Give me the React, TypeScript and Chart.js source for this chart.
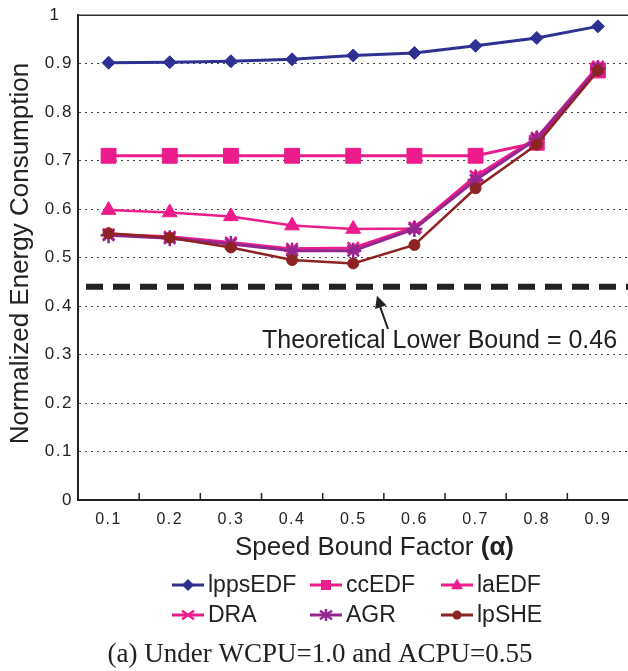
import React, { useEffect, useRef } from 'react';
import { Chart, registerables } from 'chart.js';

Chart.register(...registerables);

// ---------- data ----------
const categories = ['0.1', '0.2', '0.3', '0.4', '0.5', '0.6', '0.7', '0.8', '0.9'];
const seriesNames = ['lppsEDF', 'ccEDF', 'laEDF', 'DRA', 'AGR', 'lpSHE'];
const lppsEDF = [0.902, 0.903, 0.905, 0.909, 0.917, 0.922, 0.937, 0.953, 0.977];
const ccEDF = [0.71, 0.71, 0.71, 0.71, 0.71, 0.71, 0.71, 0.737, 0.886];
const laEDF = [0.598, 0.593, 0.585, 0.566, 0.559, 0.56, 0.665, 0.745, 0.89];
const dra = [0.548, 0.543, 0.531, 0.518, 0.52, 0.562, 0.668, 0.747, 0.894];
const agr = [0.546, 0.54, 0.528, 0.514, 0.514, 0.559, 0.66, 0.745, 0.89];
const lpSHE = [0.55, 0.541, 0.521, 0.495, 0.488, 0.526, 0.643, 0.733, 0.886];
const yMin = 0;
const yMax = 1;
const yStep = 0.1;
const lowerBoundLine = 0.44;
const annotationText = 'Theoretical Lower Bound = 0.46';
const xTitle = 'Speed Bound Factor ';
const xTitleSymbol = '(α)';
const yTitle = 'Normalized Energy Consumption';
const caption = '(a) Under WCPU=1.0 and ACPU=0.55';

// ---------- styles ----------
const SANS = '"Liberation Sans", Arial, sans-serif';
const SERIF = '"Liberation Serif", "Times New Roman", serif';
const TEXT = '#222';
const NAVY = '#2e3192';
const PINK = '#ec1c8c';
const PURPLE = '#92278f';
const BROWN = '#8e2323';

const seriesStyles = [
  { color: NAVY, point: 'rectRot', radius: 6.5, width: 3, pbw: 1 },
  { color: PINK, point: 'rect', radius: 10.5, width: 3, pbw: 1 },
  { color: PINK, point: 'triangle', radius: 8.5, width: 2.5, pbw: 1 },
  { color: PINK, point: 'crossRot', radius: 8, width: 3, pbw: 2.5 },
  { color: PURPLE, point: 'star', radius: 8, width: 3, pbw: 2.5 },
  { color: BROWN, point: 'circle', radius: 5.5, width: 2.5, pbw: 1 },
];
const seriesValues = [lppsEDF, ccEDF, laEDF, dra, agr, lpSHE];

function drawMarker(ctx: CanvasRenderingContext2D, style: string, x: number, y: number, r: number, color: string) {
  ctx.save();
  ctx.fillStyle = color;
  ctx.strokeStyle = color;
  ctx.lineWidth = 2.5;
  ctx.beginPath();
  if (style === 'rectRot') {
    ctx.moveTo(x, y - r); ctx.lineTo(x + r, y); ctx.lineTo(x, y + r); ctx.lineTo(x - r, y); ctx.closePath(); ctx.fill();
  } else if (style === 'rect') {
    ctx.rect(x - r, y - r, 2 * r, 2 * r); ctx.fill();
  } else if (style === 'triangle') {
    ctx.moveTo(x, y - r * 1.1); ctx.lineTo(x + r, y + r * 0.7); ctx.lineTo(x - r, y + r * 0.7); ctx.closePath(); ctx.fill();
  } else if (style === 'crossRot') {
    ctx.moveTo(x - r, y - r * 0.7); ctx.lineTo(x + r, y + r * 0.7);
    ctx.moveTo(x - r, y + r * 0.7); ctx.lineTo(x + r, y - r * 0.7); ctx.stroke();
  } else if (style === 'star') {
    ctx.moveTo(x - r, y - r * 0.7); ctx.lineTo(x + r, y + r * 0.7);
    ctx.moveTo(x - r, y + r * 0.7); ctx.lineTo(x + r, y - r * 0.7);
    ctx.moveTo(x, y - r); ctx.lineTo(x, y + r); ctx.stroke();
  } else {
    ctx.arc(x, y, r, 0, Math.PI * 2); ctx.fill();
  }
  ctx.restore();
}

const decorPlugin = {
  id: 'decor',
  beforeDraw(chart: any) {
    const c: any = chart.ctx;
    if ('letterSpacing' in c) c.letterSpacing = '1.5px';
  },
  afterDraw(chart: any) {
    const ctx: CanvasRenderingContext2D = chart.ctx;
    if ('letterSpacing' in (ctx as any)) (ctx as any).letterSpacing = '0px';
    const { left, top, bottom } = chart.chartArea;
    const xs = chart.scales.x;
    const ys = chart.scales.y;
    ctx.save();

    // top border
    ctx.strokeStyle = '#333';
    ctx.lineWidth = 1.5;
    ctx.beginPath();
    ctx.moveTo(left, top);
    ctx.lineTo(chart.width, top);
    ctx.stroke();

    // inner tick marks at category boundaries
    ctx.strokeStyle = '#222';
    ctx.lineWidth = 1.5;
    for (let i = 1; i < categories.length; i++) {
      const bx = (xs.getPixelForValue(i - 1) + xs.getPixelForValue(i)) / 2;
      ctx.beginPath();
      ctx.moveTo(bx, bottom);
      ctx.lineTo(bx, bottom - 7);
      ctx.stroke();
    }

    // theoretical lower bound dashed line
    const ly = ys.getPixelForValue(lowerBoundLine);
    ctx.strokeStyle = '#222';
    ctx.lineWidth = 6;
    ctx.setLineDash([17, 10]);
    ctx.beginPath();
    ctx.moveTo(left + 8, ly);
    ctx.lineTo(chart.width, ly);
    ctx.stroke();
    ctx.setLineDash([]);

    // annotation text
    ctx.fillStyle = TEXT;
    ctx.font = `25px ${SANS}`;
    ctx.textAlign = 'left';
    ctx.textBaseline = 'middle';
    ctx.fillText(annotationText, 262, 341);

    // arrow
    const ax0 = 388, ay0 = 329, ax1 = 377, ay1 = ly + 9;
    ctx.strokeStyle = '#222';
    ctx.lineWidth = 2;
    ctx.beginPath();
    ctx.moveTo(ax0, ay0);
    ctx.lineTo(ax1 + 2, ay1 + 8);
    ctx.stroke();
    const ang = Math.atan2(ay1 - ay0, ax1 - ax0);
    const hl = 12, hw = 6;
    ctx.fillStyle = '#222';
    ctx.beginPath();
    ctx.moveTo(ax1, ay1);
    ctx.lineTo(ax1 - hl * Math.cos(ang) + hw * Math.sin(ang), ay1 - hl * Math.sin(ang) - hw * Math.cos(ang));
    ctx.lineTo(ax1 - hl * Math.cos(ang) - hw * Math.sin(ang), ay1 - hl * Math.sin(ang) + hw * Math.cos(ang));
    ctx.closePath();
    ctx.fill();

    // y title
    ctx.save();
    ctx.translate(21, (top + bottom) / 2 - 4);
    ctx.rotate(-Math.PI / 2);
    ctx.font = `26px ${SANS}`;
    ctx.textAlign = 'center';
    ctx.textBaseline = 'middle';
    ctx.fillStyle = TEXT;
    ctx.fillText(yTitle, 0, 0);
    ctx.restore();

    // x title
    ctx.font = `26px ${SANS}`;
    ctx.textAlign = 'left';
    ctx.textBaseline = 'middle';
    ctx.fillStyle = TEXT;
    const tx = 235;
    ctx.fillText(xTitle, tx, 548);
    const w = ctx.measureText(xTitle).width;
    ctx.font = `bold 26px ${SANS}`;
    ctx.fillText(xTitleSymbol, tx + w, 548);

    // legend
    const colX = [208, 346, 477];
    const rowY = [585, 615];
    ctx.font = `23px ${SANS}`;
    seriesNames.forEach((name, i) => {
      const st = seriesStyles[i];
      const cx = colX[i % 3];
      const cy = rowY[Math.floor(i / 3)];
      ctx.strokeStyle = st.color;
      ctx.lineWidth = 3;
      ctx.beginPath();
      ctx.moveTo(cx - 36, cy);
      ctx.lineTo(cx - 4, cy);
      ctx.stroke();
      const mr = st.point === 'rect' ? 5 : st.point === 'circle' ? 4.5 : 6;
      drawMarker(ctx, st.point, cx - 20, cy, mr, st.color);
      ctx.fillStyle = TEXT;
      ctx.textAlign = 'left';
      ctx.textBaseline = 'middle';
      ctx.fillText(name, cx, cy + 1);
    });

    // caption
    ctx.font = `27px ${SERIF}`;
    ctx.textAlign = 'center';
    ctx.textBaseline = 'middle';
    ctx.fillStyle = TEXT;
    ctx.fillText(caption, 320, 655);

    ctx.restore();
  },
};

export default function App() {
  const ref = useRef<HTMLCanvasElement | null>(null);

  useEffect(() => {
    if (!ref.current) return;
    const datasets = seriesNames.map((name, i) => {
      const st = seriesStyles[i];
      return {
        label: name,
        data: seriesValues[i],
        borderColor: st.color,
        backgroundColor: st.color,
        borderWidth: st.width,
        pointStyle: st.point,
        pointRadius: st.radius,
        pointBorderWidth: st.pbw,
        pointBackgroundColor: st.color,
        pointBorderColor: st.color,
        tension: 0,
        fill: false,
        order: seriesNames.length - i,
      };
    });
    const chart = new Chart(ref.current, {
      type: 'line',
      data: { labels: categories, datasets },
      options: {
        animation: false,
        responsive: false,
        devicePixelRatio: 1,
        layout: { padding: { top: 13, right: 9, left: 0, bottom: 0 } },
        plugins: { legend: { display: false }, tooltip: { enabled: false }, title: { display: false } },
        scales: {
          x: {
            type: 'category',
            offset: true,
            grid: { display: false, drawTicks: false },
            border: { display: true, color: '#222', width: 2 },
            ticks: {
              color: TEXT,
              font: { family: SANS, size: 16 },
              padding: 10,
              maxRotation: 0,
              autoSkip: false,
            },
            afterFit: (s: any) => { s.height = 171; },
          },
          y: {
            min: yMin,
            max: yMax,
            grid: {
              drawTicks: false,
              lineWidth: 1,
              color: (c: any) => {
                const v = c.tick ? c.tick.value : 0;
                return v < 0.001 || v > 0.999 ? 'rgba(0,0,0,0)' : '#444';
              },
            },
            border: { display: true, color: '#222', width: 2, dash: [2, 4] },
            ticks: {
              stepSize: yStep,
              color: TEXT,
              font: { family: SANS, size: 17 },
              padding: 5,
              callback: (v: any) => {
                const n = Number(v);
                if (n < 0.001) return '0';
                if (n > 0.999) return '1  ';
                return n.toFixed(1);
              },
            },
            afterFit: (s: any) => { s.width = 78; },
          },
        },
      },
      plugins: [decorPlugin],
    } as any);
    return () => chart.destroy();
  }, []);

  return (
    <div style={{ position: 'absolute', left: 0, top: 0, width: 628, height: 671, overflow: 'hidden', background: '#fff' }}>
      <canvas ref={ref} width={640} height={671} style={{ display: 'block', width: 640, height: 671 }} />
    </div>
  );
}
